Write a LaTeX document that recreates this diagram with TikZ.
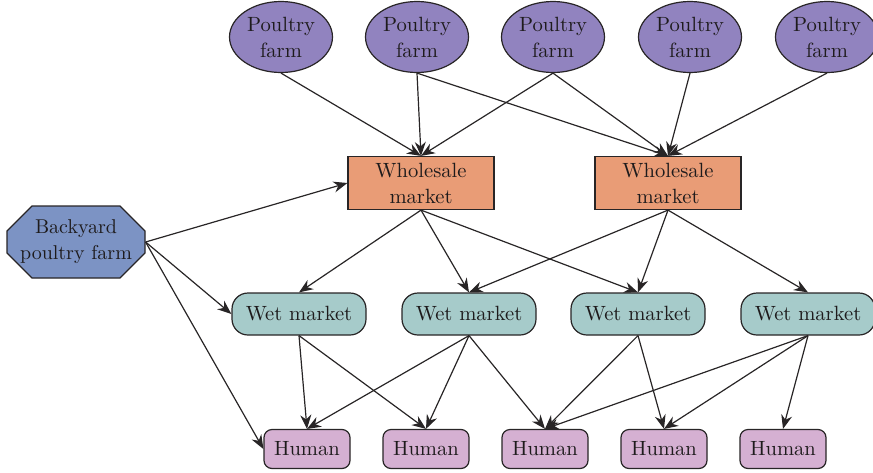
\documentclass[tikz,border=0pt]{standalone}
\usetikzlibrary{arrows.meta,shapes.geometric,shapes.misc}
\definecolor{farmpurple}{RGB}{145,131,191}
\definecolor{saleorange}{RGB}{233,156,118}
\definecolor{yardblue}{RGB}{124,147,196}
\definecolor{wetteal}{RGB}{166,203,202}
\definecolor{humanpink}{RGB}{213,176,210}
\definecolor{linegray}{RGB}{40,37,38}
\definecolor{textdark}{RGB}{30,27,28}

\begin{document}
\begin{tikzpicture}[x=0.5pt, y=-0.5pt,
    box/.style={draw=linegray, line width=0.6pt, text=textdark, align=center,
        inner sep=0pt, font=\fontsize{10.3}{13}\selectfont},
    farm/.style={box, ellipse, fill=farmpurple,
        minimum width=51.5pt, minimum height=35.5pt},
    wholesale/.style={box, rectangle, fill=saleorange,
        minimum width=73pt, minimum height=26.5pt},
    backyard/.style={box, chamfered rectangle, fill=yardblue,
        font=\fontsize{10}{13}\selectfont,
        chamfered rectangle xsep=5.5pt, chamfered rectangle ysep=7pt,
        minimum width=69pt, minimum height=36pt},
    wet/.style={box, rectangle, rounded corners=8pt, fill=wetteal,
        minimum width=67pt, minimum height=21pt},
    human/.style={box, rectangle, rounded corners=4pt, fill=humanpink,
        minimum width=43pt, minimum height=19.5pt},
    edge/.style={draw=linegray, line width=0.6pt,
        -{Stealth[length=7pt, width=5.5pt]}}
]
    \useasboundingbox (0,0) rectangle (873,472);
    \node[farm] (pf1) at (281,37) {Poultry\\farm};
    \node[farm] (pf2) at (417,37) {Poultry\\farm};
    \node[farm] (pf3) at (553,37) {Poultry\\farm};
    \node[farm] (pf4) at (690,37) {Poultry\\farm};
    \node[farm] (pf5) at (827,37) {Poultry\\farm};
    \node[wholesale] (ws1) at (421,183) {Wholesale\\market};
    \node[wholesale] (ws2) at (668,183) {Wholesale\\market};
    \node[backyard] (byf) at (76,242) {Backyard\\poultry farm};
    \node[wet] (wm1) at (299,314) {Wet market};
    \node[wet] (wm2) at (469,314) {Wet market};
    \node[wet] (wm3) at (638,314) {Wet market};
    \node[wet] (wm4) at (808,314) {Wet market};
    \node[human] (h1) at (307,449) {Human};
    \node[human] (h2) at (426,449) {Human};
    \node[human] (h3) at (545,449) {Human};
    \node[human] (h4) at (664,449) {Human};
    \node[human] (h5) at (783,449) {Human};
    \draw[edge] (pf1.south) -- (ws1.north);
    \draw[edge] (pf2.south) -- (ws1.north);
    \draw[edge] (pf2.south) -- (ws2.north);
    \draw[edge] (pf3.south) -- (ws1.north);
    \draw[edge] (pf3.south) -- (ws2.north);
    \draw[edge] (pf4.south) -- (ws2.north);
    \draw[edge] (pf5.south) -- (ws2.north);
    \draw[edge] (byf.east) -- (ws1.west);
    \draw[edge] (byf.east) -- (wm1.west);
    \draw[edge] (byf.east) -- (h1.west);
    \draw[edge] (ws1.south) -- (wm1.north);
    \draw[edge] (ws1.south) -- (wm2.north);
    \draw[edge] (ws1.south) -- (wm3.north);
    \draw[edge] (ws2.south) -- (wm2.north);
    \draw[edge] (ws2.south) -- (wm3.north);
    \draw[edge] (ws2.south) -- (wm4.north);
    \draw[edge] (wm1.south) -- (h1.north);
    \draw[edge] (wm1.south) -- (h2.north);
    \draw[edge] (wm2.south) -- (h1.north);
    \draw[edge] (wm2.south) -- (h2.north);
    \draw[edge] (wm2.south) -- (h3.north);
    \draw[edge] (wm3.south) -- (h3.north);
    \draw[edge] (wm3.south) -- (h4.north);
    \draw[edge] (wm4.south) -- (h3.north);
    \draw[edge] (wm4.south) -- (h4.north);
    \draw[edge] (wm4.south) -- (h5.north);
\end{tikzpicture}
\end{document}
